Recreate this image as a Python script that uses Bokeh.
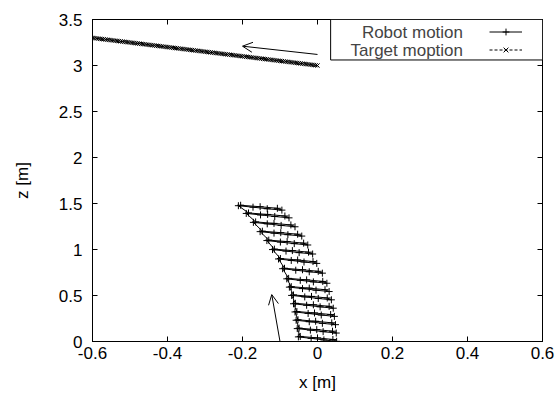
from bokeh.plotting import figure
from bokeh.models import (Range1d, LinearAxis, FixedTicker, Arrow, OpenHead, Label,
                          Legend, LegendItem, BoxAnnotation, CustomJSTickFormatter)
from bokeh.embed import file_html
from bokeh.resources import INLINE

# ---------------- data ----------------
x_ticks = [-0.6, -0.4, -0.2, 0.0, 0.2, 0.4, 0.6]
x_tick_labels = ["-0.6", "-0.4", "-0.2", "0", "0.2", "0.4", "0.6"]
y_ticks = [0.0, 0.5, 1.0, 1.5, 2.0, 2.5, 3.0, 3.5]
y_tick_labels = ["0", "0.5", "1", "1.5", "2", "2.5", "3", "3.5"]

robot_x = [
    -0.051, -0.017, 0.017, 0.051, 0.041, 0.000, -0.046,
    -0.054, -0.019, 0.015, 0.050, 0.040, -0.002, -0.049,
    -0.057, -0.022, 0.013, 0.048, 0.038, -0.005, -0.052,
    -0.060, -0.025, 0.010, 0.045, 0.035, -0.008, -0.055,
    -0.064, -0.029, 0.007, 0.042, 0.031, -0.011, -0.059,
    -0.069, -0.034, 0.002, 0.037, 0.026, -0.016, -0.064,
    -0.075, -0.040, -0.004, 0.031, 0.020, -0.022, -0.070,
    -0.082, -0.046, -0.011, 0.025, 0.014, -0.029, -0.077,
    -0.093, -0.058, -0.022, 0.013, 0.002, -0.040, -0.088,
    -0.104, -0.070, -0.036, -0.002, -0.012, -0.053, -0.099,
    -0.120, -0.084, -0.049, -0.013, -0.024, -0.067, -0.115,
    -0.135, -0.099, -0.062, -0.026, -0.037, -0.081, -0.130,
    -0.153, -0.116, -0.079, -0.042, -0.053, -0.098, -0.147,
    -0.171, -0.134, -0.097, -0.060, -0.071, -0.116, -0.165,
    -0.190, -0.152, -0.114, -0.076, -0.087, -0.133, -0.184,
    -0.211, -0.172, -0.134, -0.095, -0.107, -0.153, -0.205,
]
robot_z = [
    0.050, 0.034, 0.017, 0.002, 0.022, 0.039, 0.055,
    0.140, 0.124, 0.107, 0.092, 0.112, 0.129, 0.145,
    0.231, 0.215, 0.198, 0.183, 0.203, 0.220, 0.236,
    0.321, 0.305, 0.288, 0.273, 0.293, 0.310, 0.326,
    0.410, 0.394, 0.377, 0.362, 0.382, 0.399, 0.415,
    0.501, 0.485, 0.468, 0.453, 0.473, 0.490, 0.506,
    0.591, 0.575, 0.558, 0.543, 0.563, 0.580, 0.596,
    0.681, 0.665, 0.648, 0.633, 0.653, 0.670, 0.686,
    0.791, 0.775, 0.758, 0.743, 0.763, 0.780, 0.796,
    0.897, 0.881, 0.864, 0.849, 0.869, 0.886, 0.902,
    0.999, 0.983, 0.966, 0.951, 0.971, 0.988, 1.004,
    1.097, 1.081, 1.064, 1.049, 1.069, 1.086, 1.102,
    1.194, 1.178, 1.161, 1.146, 1.166, 1.183, 1.199,
    1.295, 1.279, 1.262, 1.247, 1.267, 1.284, 1.300,
    1.392, 1.376, 1.359, 1.344, 1.364, 1.381, 1.397,
    1.476, 1.460, 1.443, 1.428, 1.448, 1.465, 1.481,
]

target_x = [
    0.000, -0.005, -0.010, -0.015, -0.020, -0.025, -0.030, -0.035, -0.040, -0.045,
    -0.050, -0.055, -0.060, -0.065, -0.070, -0.075, -0.080, -0.085, -0.090, -0.095,
    -0.100, -0.105, -0.110, -0.115, -0.120, -0.125, -0.130, -0.135, -0.140, -0.145,
    -0.150, -0.155, -0.160, -0.165, -0.170, -0.175, -0.180, -0.185, -0.190, -0.195,
    -0.200, -0.205, -0.210, -0.215, -0.220, -0.225, -0.230, -0.235, -0.240, -0.245,
    -0.250, -0.255, -0.260, -0.265, -0.270, -0.275, -0.280, -0.285, -0.290, -0.295,
    -0.300, -0.305, -0.310, -0.315, -0.320, -0.325, -0.330, -0.335, -0.340, -0.345,
    -0.350, -0.355, -0.360, -0.365, -0.370, -0.375, -0.380, -0.385, -0.390, -0.395,
    -0.400, -0.405, -0.410, -0.415, -0.420, -0.425, -0.430, -0.435, -0.440, -0.445,
    -0.450, -0.455, -0.460, -0.465, -0.470, -0.475, -0.480, -0.485, -0.490, -0.495,
    -0.500, -0.505, -0.510, -0.515, -0.520, -0.525, -0.530, -0.535, -0.540, -0.545,
    -0.550, -0.555, -0.560, -0.565, -0.570, -0.575, -0.580, -0.585, -0.590, -0.595,
    -0.600, -0.605, -0.610,
]
target_z = [
    3.0000, 3.0025, 3.0050, 3.0075, 3.0100, 3.0125, 3.0150, 3.0175, 3.0200, 3.0225,
    3.0250, 3.0275, 3.0300, 3.0325, 3.0350, 3.0375, 3.0400, 3.0425, 3.0450, 3.0475,
    3.0500, 3.0525, 3.0550, 3.0575, 3.0600, 3.0625, 3.0650, 3.0675, 3.0700, 3.0725,
    3.0750, 3.0775, 3.0800, 3.0825, 3.0850, 3.0875, 3.0900, 3.0925, 3.0950, 3.0975,
    3.1000, 3.1025, 3.1050, 3.1075, 3.1100, 3.1125, 3.1150, 3.1175, 3.1200, 3.1225,
    3.1250, 3.1275, 3.1300, 3.1325, 3.1350, 3.1375, 3.1400, 3.1425, 3.1450, 3.1475,
    3.1500, 3.1525, 3.1550, 3.1575, 3.1600, 3.1625, 3.1650, 3.1675, 3.1700, 3.1725,
    3.1750, 3.1775, 3.1800, 3.1825, 3.1850, 3.1875, 3.1900, 3.1925, 3.1950, 3.1975,
    3.2000, 3.2025, 3.2050, 3.2075, 3.2100, 3.2125, 3.2150, 3.2175, 3.2200, 3.2225,
    3.2250, 3.2275, 3.2300, 3.2325, 3.2350, 3.2375, 3.2400, 3.2425, 3.2450, 3.2475,
    3.2500, 3.2525, 3.2550, 3.2575, 3.2600, 3.2625, 3.2650, 3.2675, 3.2700, 3.2725,
    3.2750, 3.2775, 3.2800, 3.2825, 3.2850, 3.2875, 3.2900, 3.2925, 3.2950, 3.2975,
    3.3000, 3.3025, 3.3050,
]

# direction arrows: [x_start, z_start, x_end, z_end]
target_arrow = [0.0, 3.12, -0.20, 3.21]
robot_arrow = [-0.100, 0.0, -0.122, 0.51]

series_names = ["Robot motion", "Target moption"]

# ---------------- figure ----------------
FONT = "Liberation Sans"
FS = "17px"

p = figure(width=559, height=394, x_range=Range1d(-0.6, 0.6), y_range=Range1d(0, 3.5),
           output_backend="svg", toolbar_location=None,
           min_border_left=92, min_border_right=17, min_border_top=19, min_border_bottom=52,
           x_axis_label="x [m]", y_axis_label="z [m]")
p.grid.visible = False
p.outline_line_color = "black"
p.outline_line_width = 1
p.background_fill_color = "white"
p.border_fill_color = "white"


def style_axis(ax, ticks, labels=None):
    ax.ticker = FixedTicker(ticks=ticks)
    ax.major_tick_in = 5
    ax.major_tick_out = 0
    ax.minor_tick_line_color = None
    ax.axis_line_color = "black"
    ax.major_tick_line_color = "black"
    if labels is not None:
        ax.major_label_overrides = {t: s for t, s in zip(ticks, labels)}
        ax.major_label_text_font = FONT
        ax.major_label_text_font_size = FS
        ax.major_label_text_color = "black"
        ax.axis_label_text_font = FONT
        ax.axis_label_text_font_size = FS
        ax.axis_label_text_font_style = "normal"
        ax.axis_label_text_color = "black"
    else:
        ax.formatter = CustomJSTickFormatter(code="return ''")
        ax.major_label_standoff = 0


xa = p.xaxis[0]
ya = p.yaxis[0]
style_axis(xa, x_ticks, x_tick_labels)
style_axis(ya, y_ticks, y_tick_labels)
xa.major_label_standoff = 5
xa.axis_label_standoff = 11
ya.major_label_standoff = 10
ya.axis_label_standoff = 24

top_ax = LinearAxis()
style_axis(top_ax, x_ticks)
p.add_layout(top_ax, "above")
right_ax = LinearAxis()
style_axis(right_ax, y_ticks)
p.add_layout(right_ax, "right")

# data
r_line = p.line(robot_x, robot_z, line_color="black", line_width=1)
r_pts = p.scatter(robot_x, robot_z, marker="cross", size=7, line_color="black", line_width=1)
t_line = p.line(target_x, target_z, line_color="black", line_width=1, line_dash="3 2")
t_pts = p.scatter(target_x, target_z, marker="x", size=6, line_color="black", line_width=1)

# arrows
p.add_layout(Arrow(x_start=target_arrow[0], y_start=target_arrow[1],
                   x_end=target_arrow[2], y_end=target_arrow[3],
                   end=OpenHead(size=10, line_width=1, line_color="black"),
                   line_color="black", line_width=1))
p.add_layout(Arrow(x_start=robot_arrow[0], y_start=robot_arrow[1],
                   x_end=robot_arrow[2], y_end=robot_arrow[3],
                   end=OpenHead(size=10, line_width=1, line_color="black"),
                   line_color="black", line_width=1))

# key box (gnuplot style: text right-aligned, sample on the right)
p.add_layout(BoxAnnotation(left=0.035, right=0.6, bottom=3.06, top=3.5,
                           fill_color="white", fill_alpha=1.0,
                           line_color="black", line_width=1, line_alpha=1.0))
p.add_layout(Label(x=0.388, y=3.355, text=series_names[0], text_align="right",
                   text_baseline="middle", text_font=FONT, text_font_size=FS))
p.add_layout(Label(x=0.388, y=3.160, text=series_names[1], text_align="right",
                   text_baseline="middle", text_font=FONT, text_font_size=FS))

legend = Legend(items=[LegendItem(label="", renderers=[r_line, r_pts]),
                       LegendItem(label="", renderers=[t_line, t_pts])],
                location=(397, 283), orientation="vertical",
                glyph_width=33, glyph_height=17, label_height=17, label_width=1,
                label_standoff=0, spacing=1, padding=0, margin=0,
                border_line_alpha=0, background_fill_alpha=0,
                label_text_font=FONT, label_text_font_size=FS)
p.add_layout(legend)

open("out.html", "w").write(file_html(p, INLINE))
